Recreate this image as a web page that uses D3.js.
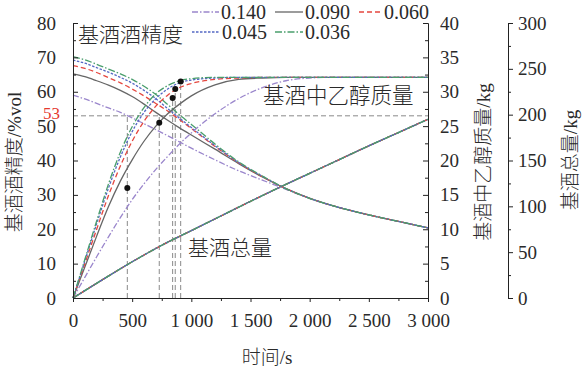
<!DOCTYPE html>
<html>
<head>
<meta charset="utf-8">
<script src="https://cdn.jsdelivr.net/npm/d3@7"></script>
<style>
  body { margin: 0; background: #fff; }
  svg { display: block; }
  text { font-family: "Liberation Serif", "Noto Sans CJK SC", serif; fill: #2a2a2a; }
  .cjk { font-family: "Liberation Serif", "Noto Sans CJK SC", serif; font-weight: 300; }
</style>
</head>
<body>
<svg width="586" height="370"></svg>
<script>
// time grid (s) for the degree / ethanol curves
var times = [0, 100, 200, 300, 400, 500, 600, 700, 800, 900, 1000, 1200, 1400, 1600, 1800, 2000, 2200, 2400, 2600, 2800, 3000];

// base liquor alcohol degree (%vol)
var deg140 = [59.0, 57.9, 56.6, 55.3, 54.0, 52.4, 50.7, 49.0, 47.2, 45.4, 43.6, 40.2, 37.0, 34.3, 31.6, 29.0, 26.8, 25.0, 23.4, 21.9, 20.4];
var deg090 = [65.2, 64.4, 63.2, 61.9, 60.4, 58.6, 56.4, 54.0, 51.7, 49.5, 47.4, 43.3, 39.1, 35.2, 31.8, 29.0, 26.8, 25.0, 23.4, 21.9, 20.4];
var deg060 = [67.6, 66.8, 65.6, 64.1, 62.6, 60.8, 58.8, 56.6, 54.4, 51.9, 49.3, 44.1, 39.3, 35.3, 31.8, 29.0, 26.8, 25.0, 23.4, 21.9, 20.4];
var deg045 = [69.2, 68.3, 67.0, 65.7, 64.2, 62.5, 60.4, 58.0, 55.1, 52.3, 49.6, 44.3, 39.4, 35.4, 31.8, 29.0, 26.8, 25.0, 23.4, 21.9, 20.4];
var deg036 = [70.2, 69.3, 68.0, 66.6, 65.2, 63.6, 61.6, 59.2, 56.3, 53.3, 50.5, 44.8, 39.6, 35.5, 31.8, 29.0, 26.8, 25.0, 23.4, 21.9, 20.4];

// ethanol mass in base liquor (kg)
var eth140 = [0, 3.0, 6.0, 8.9, 11.7, 14.3, 16.6, 18.7, 20.6, 22.4, 24.0, 26.8, 29.0, 30.6, 31.6, 32.0, 32.1, 32.1, 32.1, 32.1, 32.1];
var eth090 = [0, 4.5, 9.0, 13.3, 17.0, 20.1, 22.8, 25.0, 26.8, 28.2, 29.4, 31.0, 31.8, 32.0, 32.1, 32.1, 32.1, 32.1, 32.1, 32.1, 32.1];
var eth060 = [0, 5.0, 10.0, 14.9, 19.2, 22.8, 25.7, 27.9, 29.5, 30.6, 31.2, 31.8, 32.0, 32.1, 32.1, 32.1, 32.1, 32.1, 32.1, 32.1, 32.1];
var eth045 = [0, 5.4, 10.8, 16.0, 20.5, 24.2, 27.0, 29.0, 30.4, 31.3, 31.7, 32.0, 32.1, 32.1, 32.1, 32.1, 32.1, 32.1, 32.1, 32.1, 32.1];
var eth036 = [0, 5.6, 11.2, 16.6, 21.2, 24.9, 27.7, 29.7, 30.9, 31.6, 31.9, 32.1, 32.1, 32.1, 32.1, 32.1, 32.1, 32.1, 32.1, 32.1, 32.1];

// total base liquor (kg), same for all series
var totalTimes = [0, 250, 500, 750, 1000, 1250, 1500, 1750, 2000, 2250, 2500, 2750, 3000];
var totalMass = [0, 20, 39.5, 57.5, 73.5, 89.5, 105.5, 121, 136, 151, 166, 180.5, 195];

// time where degree falls to 53 %vol and the marked ethanol mass there
var cutLevel = 53;
var cutTimes = [459, 729, 842, 864, 910];
var cutMass = [16.0, 25.5, 29.1, 30.4, 31.5];

var seriesNames = ["0.140", "0.090", "0.060", "0.045", "0.036"];
var xTicks = [0, 500, 1000, 1500, 2000, 2500, 3000];
var xTickText = ["0", "500", "1 000", "1 500", "2 000", "2 500", "3 000"];

var styles = [
    { color: "#9a86cc", dash: "6,2,1.5,2" },
    { color: "#666666", dash: null },
    { color: "#e5473f", dash: "5,3" },
    { color: "#5468c4", dash: "2.5,1.5" },
    { color: "#4a9e6c", dash: "7,2,1.5,2" }
];

var degData = [deg140, deg090, deg060, deg045, deg036];
var ethData = [eth140, eth090, eth060, eth045, eth036];

var svg = d3.select("svg");
var x = d3.scaleLinear().domain([0, 3000]).range([73, 428]);
var yDeg = d3.scaleLinear().domain([0, 80]).range([298, 23]);
var yKg = d3.scaleLinear().domain([0, 40]).range([298, 23]);
var yTot = d3.scaleLinear().domain([0, 300]).range([298, 23]);

// reference lines at 53 %vol
var ref = svg.append("g").attr("stroke", "#8a8a8a").attr("stroke-width", 1).attr("stroke-dasharray", "5,3");
ref.append("line")
    .attr("x1", x(0)).attr("x2", x(3000))
    .attr("y1", yDeg(cutLevel)).attr("y2", yDeg(cutLevel));
cutTimes.forEach(function(t, i) {
    ref.append("line")
        .attr("x1", x(t)).attr("x2", x(t))
        .attr("y1", yDeg(0))
        .attr("y2", Math.min(yDeg(cutLevel), yKg(cutMass[i])));
});

function drawLine(xs, ys, yScale, st) {
    var line = d3.line()
        .x(function(d, i) { return x(xs[i]); })
        .y(function(d) { return yScale(d); })
        .curve(d3.curveMonotoneX);
    svg.append("path")
        .datum(ys)
        .attr("d", line)
        .attr("fill", "none")
        .attr("stroke", st.color)
        .attr("stroke-width", 1.3)
        .attr("stroke-dasharray", st.dash);
}

styles.forEach(function(st) { drawLine(totalTimes, totalMass, yTot, st); });
styles.forEach(function(st, i) { drawLine(times, degData[i], yDeg, st); });
styles.forEach(function(st, i) { drawLine(times, ethData[i], yKg, st); });

// marked points
svg.append("g").selectAll("circle")
    .data(cutTimes)
    .enter()
    .append("circle")
    .attr("cx", function(d) { return x(d); })
    .attr("cy", function(d, i) { return yKg(cutMass[i]); })
    .attr("r", 3)
    .attr("fill", "#111");

// axes
function styleAxis(g) {
    g.selectAll("path.domain").attr("stroke", "#222");
    g.selectAll("line").attr("stroke", "#222");
    g.selectAll("text").attr("font-size", 19).attr("fill", "#2a2a2a")
        .style("font-family", "'Liberation Serif', serif");
}

var xAx = svg.append("g").attr("transform", "translate(0,298)")
    .call(d3.axisBottom(x).tickValues(d3.range(0, 3001, 250)).tickSizeOuter(0).tickSize(4).tickPadding(12)
        .tickFormat(function(d) { var k = xTicks.indexOf(d); return k < 0 ? "" : xTickText[k]; }));
styleAxis(xAx);

var yAx = svg.append("g").attr("transform", "translate(73,0)")
    .call(d3.axisLeft(yDeg).tickValues(d3.range(0, 81, 5)).tickSizeOuter(0).tickSize(-5).tickPadding(17)
        .tickFormat(function(d) { return d % 10 === 0 ? d : ""; }));
styleAxis(yAx);

var kAx = svg.append("g").attr("transform", "translate(428,0)")
    .call(d3.axisRight(yKg).tickValues(d3.range(0, 40.1, 2.5)).tickSizeOuter(0).tickSize(-5).tickPadding(12)
        .tickFormat(function(d) { return d % 5 === 0 ? d : ""; }));
styleAxis(kAx);

var tAx = svg.append("g").attr("transform", "translate(508,0)")
    .call(d3.axisRight(yTot).tickValues(d3.range(0, 301, 25)).tickSizeOuter(0).tickSize(5).tickPadding(5)
        .tickFormat(function(d) { return d % 50 === 0 ? d : ""; }));
styleAxis(tAx);

// minor ticks shorter
[yAx, kAx, tAx].forEach(function(g) {
    g.selectAll(".tick").filter(function() { return d3.select(this).select("text").text() === ""; })
        .select("line").attr("x2", function() { return +d3.select(this).attr("x2") * 0.6; });
});
xAx.selectAll(".tick").filter(function() { return d3.select(this).select("text").text() === ""; })
    .select("line").attr("y2", 3);

// red 53 label (sits tight above the 50 tick label, as in the source figure)
svg.append("text").attr("x", 60).attr("y", yDeg(cutLevel) + 3)
    .attr("text-anchor", "end").attr("font-size", 17).style("fill", "#e5392f").text("53");

// axis titles
svg.append("text").attr("class", "cjk").attr("x", 267).attr("y", 364)
    .attr("text-anchor", "middle").attr("font-size", 19).text("时间/s");
svg.append("text").attr("class", "cjk")
    .attr("transform", "translate(21,162) rotate(-90)")
    .attr("text-anchor", "middle").attr("font-size", 19).text("基酒酒精度/%vol");
svg.append("text").attr("class", "cjk")
    .attr("transform", "translate(490,162) rotate(-90)")
    .attr("text-anchor", "middle").attr("font-size", 19).text("基酒中乙醇质量/kg");
svg.append("text").attr("class", "cjk")
    .attr("transform", "translate(577,160) rotate(-90)")
    .attr("text-anchor", "middle").attr("font-size", 19).text("基酒总量/kg");

// in-plot annotations
svg.append("text").attr("class", "cjk").attr("x", 78).attr("y", 42).attr("font-size", 21).text("基酒酒精度");
svg.append("text").attr("class", "cjk").attr("x", 263).attr("y", 103).attr("font-size", 21.5).text("基酒中乙醇质量");
svg.append("text").attr("class", "cjk").attr("x", 188).attr("y", 255).attr("font-size", 21).text("基酒总量");

// legend
var legendPos = [[192, 12], [275, 12], [359, 12], [192, 32], [275, 32]];
var legendLen = [27, 28, 23, 28, 28];
seriesNames.forEach(function(name, i) {
    var p = legendPos[i];
    svg.append("line")
        .attr("x1", p[0]).attr("x2", p[0] + legendLen[i])
        .attr("y1", p[1]).attr("y2", p[1])
        .attr("stroke", styles[i].color).attr("stroke-width", 1.3)
        .attr("stroke-dasharray", styles[i].dash);
    svg.append("text").attr("x", p[0] + legendLen[i] + 2).attr("y", p[1] + 6.5)
        .attr("font-size", 20).text(name);
});
</script>
</body>
</html>
